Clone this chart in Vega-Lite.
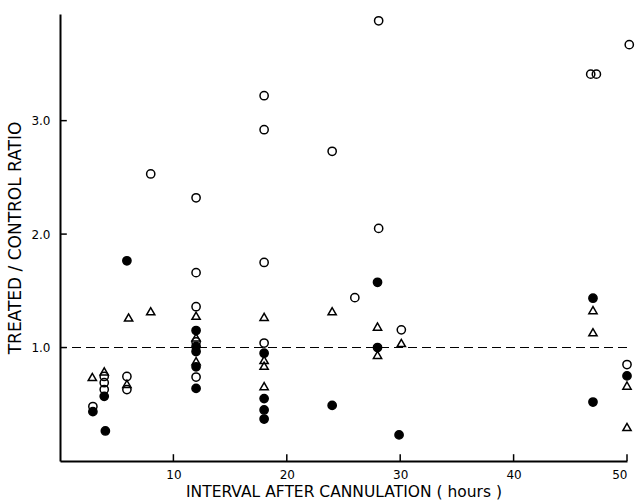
{
  "$schema": "https://vega.github.io/schema/vega-lite/v6.json",
  "width": 567,
  "height": 447,
  "autosize": {"type": "none"},
  "padding": {"left": 60, "top": 14, "right": 9, "bottom": 39},
  "background": "white",
  "config": {
    "view": {"stroke": null},
    "font": "DejaVu Sans",
    "axis": {
      "grid": false,
      "ticks": false,
      "domainColor": "black",
      "domainWidth": 2,
      "labelColor": "black",
      "labelFont": "DejaVu Sans",
      "labelFontSize": 12,
      "titleColor": "black",
      "titleFont": "DejaVu Sans",
      "titleFontWeight": "normal"
    }
  },
  "datasets": {
    "points": [
      {"hours": 2.9, "ratio": 0.48, "type": "open"},
      {"hours": 3.9, "ratio": 0.745, "type": "open"},
      {"hours": 3.9, "ratio": 0.69, "type": "open"},
      {"hours": 3.9, "ratio": 0.63, "type": "open"},
      {"hours": 5.9, "ratio": 0.745, "type": "open"},
      {"hours": 5.9, "ratio": 0.63, "type": "open"},
      {"hours": 8, "ratio": 2.53, "type": "open"},
      {"hours": 12, "ratio": 2.32, "type": "open"},
      {"hours": 12, "ratio": 1.66, "type": "open"},
      {"hours": 12, "ratio": 1.36, "type": "open"},
      {"hours": 12, "ratio": 1.05, "type": "open"},
      {"hours": 12, "ratio": 0.74, "type": "open"},
      {"hours": 18, "ratio": 3.22, "type": "open"},
      {"hours": 18, "ratio": 2.92, "type": "open"},
      {"hours": 18, "ratio": 1.75, "type": "open"},
      {"hours": 18, "ratio": 1.04, "type": "open"},
      {"hours": 24, "ratio": 2.73, "type": "open"},
      {"hours": 26, "ratio": 1.44, "type": "open"},
      {"hours": 28.1, "ratio": 3.88, "type": "open"},
      {"hours": 28.1, "ratio": 2.05, "type": "open"},
      {"hours": 30.1, "ratio": 1.156, "type": "open"},
      {"hours": 46.8, "ratio": 3.41, "type": "open"},
      {"hours": 47.3, "ratio": 3.41, "type": "open"},
      {"hours": 50.2, "ratio": 3.67, "type": "open"},
      {"hours": 50, "ratio": 0.85, "type": "open"},
      {"hours": 2.9, "ratio": 0.435, "type": "filled"},
      {"hours": 3.9, "ratio": 0.57, "type": "filled"},
      {"hours": 4.0, "ratio": 0.265, "type": "filled"},
      {"hours": 5.9, "ratio": 1.765, "type": "filled"},
      {"hours": 12, "ratio": 1.15, "type": "filled"},
      {"hours": 12, "ratio": 1.01, "type": "filled"},
      {"hours": 12, "ratio": 0.965, "type": "filled"},
      {"hours": 12, "ratio": 0.83, "type": "filled"},
      {"hours": 12, "ratio": 0.64, "type": "filled"},
      {"hours": 18, "ratio": 0.95, "type": "filled"},
      {"hours": 18, "ratio": 0.55, "type": "filled"},
      {"hours": 18, "ratio": 0.45, "type": "filled"},
      {"hours": 18, "ratio": 0.37, "type": "filled"},
      {"hours": 24, "ratio": 0.49, "type": "filled"},
      {"hours": 28, "ratio": 1.575, "type": "filled"},
      {"hours": 28, "ratio": 1.0, "type": "filled"},
      {"hours": 29.9, "ratio": 0.23, "type": "filled"},
      {"hours": 47, "ratio": 1.435, "type": "filled"},
      {"hours": 47, "ratio": 0.52, "type": "filled"},
      {"hours": 50, "ratio": 0.75, "type": "filled"},
      {"hours": 2.85, "ratio": 0.74, "type": "triangle"},
      {"hours": 3.9, "ratio": 0.79, "type": "triangle"},
      {"hours": 5.9, "ratio": 0.68, "type": "triangle"},
      {"hours": 6.05, "ratio": 1.265, "type": "triangle"},
      {"hours": 8, "ratio": 1.32, "type": "triangle"},
      {"hours": 12, "ratio": 1.28, "type": "triangle"},
      {"hours": 12, "ratio": 1.09, "type": "triangle"},
      {"hours": 12, "ratio": 0.88, "type": "triangle"},
      {"hours": 18, "ratio": 1.27, "type": "triangle"},
      {"hours": 18, "ratio": 0.89, "type": "triangle"},
      {"hours": 18, "ratio": 0.84, "type": "triangle"},
      {"hours": 18, "ratio": 0.66, "type": "triangle"},
      {"hours": 24, "ratio": 1.32, "type": "triangle"},
      {"hours": 28, "ratio": 1.185, "type": "triangle"},
      {"hours": 28, "ratio": 0.935, "type": "triangle"},
      {"hours": 30.1, "ratio": 1.04, "type": "triangle"},
      {"hours": 47, "ratio": 1.33, "type": "triangle"},
      {"hours": 47, "ratio": 1.135, "type": "triangle"},
      {"hours": 50, "ratio": 0.665, "type": "triangle"},
      {"hours": 50, "ratio": 0.30, "type": "triangle"}
    ],
    "xticks": [
      {"hours": 10, "y0": 0, "y1": 0.06},
      {"hours": 20, "y0": 0, "y1": 0.06},
      {"hours": 30, "y0": 0, "y1": 0.06},
      {"hours": 40, "y0": 0, "y1": 0.06},
      {"hours": 50, "y0": 0, "y1": 0.06}
    ],
    "yticks": [
      {"ratio": 1, "x0": 0, "x1": 0.6},
      {"ratio": 2, "x0": 0, "x1": 0.6},
      {"ratio": 3, "x0": 0, "x1": 0.6}
    ]
  },
  "layer": [
    {
      "data": {"name": "xticks"},
      "mark": {"type": "rule", "strokeWidth": 1.5, "color": "black"},
      "encoding": {
        "x": {"field": "hours", "type": "quantitative"},
        "y": {"field": "y0", "type": "quantitative"},
        "y2": {"field": "y1"}
      }
    },
    {
      "data": {"name": "yticks"},
      "mark": {"type": "rule", "strokeWidth": 1.5, "color": "black"},
      "encoding": {
        "y": {"field": "ratio", "type": "quantitative"},
        "x": {"field": "x0", "type": "quantitative"},
        "x2": {"field": "x1"}
      }
    },
    {
      "data": {"name": "points"},
      "mark": {"type": "rule", "strokeDash": [9, 5], "strokeWidth": 1.1, "color": "black"},
      "encoding": {"y": {"datum": 1, "type": "quantitative"}}
    },
    {
      "data": {"name": "points"},
      "mark": {"type": "point", "filled": true, "opacity": 1, "stroke": "black", "strokeWidth": 1.5, "size": 68, "clip": false},
      "encoding": {
        "x": {
          "field": "hours", "type": "quantitative",
          "scale": {"domain": [0, 50], "nice": false, "zero": true},
          "axis": {"values": [10, 20, 30, 40, 50], "format": "d", "labelPadding": 8, "titlePadding": 4, "titleFontSize": 15.5, "title": "INTERVAL AFTER CANNULATION ( hours )"}
        },
        "y": {
          "field": "ratio", "type": "quantitative",
          "scale": {"domain": [0, 3.94], "nice": false},
          "axis": {"values": [1, 2, 3], "format": ".1f", "labelPadding": 10, "titlePadding": 6, "titleFontSize": 17, "title": "TREATED / CONTROL RATIO"}
        },
        "shape": {
          "field": "type", "type": "nominal",
          "scale": {"domain": ["open", "filled", "triangle"], "range": ["circle", "circle", "triangle-up"]},
          "legend": null
        },
        "fill": {
          "field": "type", "type": "nominal",
          "scale": {"domain": ["open", "filled", "triangle"], "range": ["transparent", "black", "transparent"]},
          "legend": null
        }
      }
    }
  ]
}
